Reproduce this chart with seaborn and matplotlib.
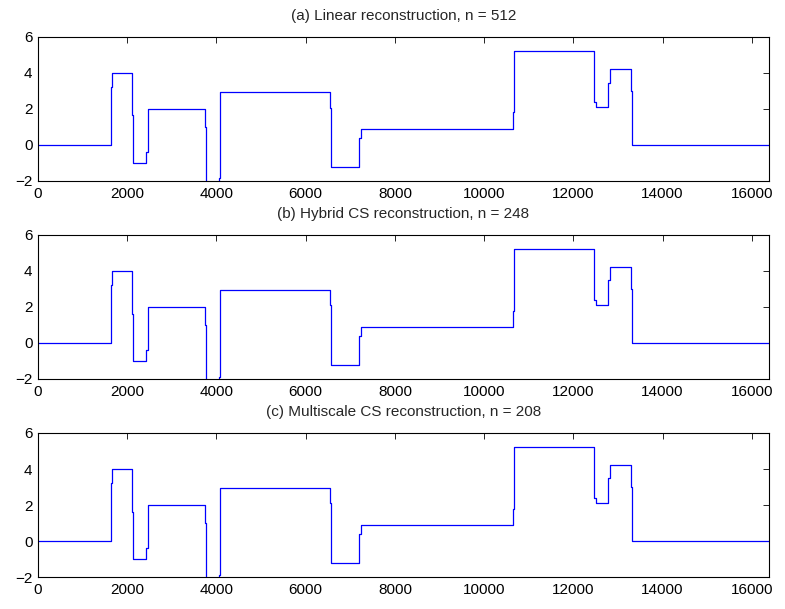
import matplotlib
matplotlib.use('Agg')
import matplotlib.pyplot as plt
import seaborn as sns
import pandas as pd

# sample index where each constant piece starts, and the level of that piece
breaks = [0, 1629, 1658, 2100, 2136, 2420, 2458, 3742, 3765, 4063, 4078,
          6543, 6573, 7200, 7238, 10637, 10660, 12466, 12497, 12780, 12818,
          13282, 13304]
levels_a = [0, 3.24, 4.0, 1.67, -1.02, -0.37, 2.0, 1.02, -4.2, -1.85, 2.96,
            2.07, -1.2, 0.37, 0.9, 1.85, 5.2, 2.4, 2.1, 3.46, 4.2,
            3.02, 0]
levels_b = [0, 3.2, 4.0, 1.6, -1.0, -0.4, 2.0, 1.0, -4.2, -1.9, 2.96,
            2.1, -1.2, 0.4, 0.9, 1.8, 5.2, 2.4, 2.1, 3.5, 4.2,
            3.0, 0]
levels_c = [0, 3.2, 4.0, 1.6, -1.0, -0.4, 2.0, 1.0, -4.2, -1.9, 2.96,
            2.1, -1.2, 0.4, 0.9, 1.8, 5.2, 2.4, 2.1, 3.5, 4.2,
            3.0, 0]
n_samples = 16384

titles = ['(a) Linear reconstruction, n = 512',
          '(b) Hybrid CS reconstruction, n = 248',
          '(c) Multiscale CS reconstruction, n = 208']
xticks = [0, 2000, 4000, 6000, 8000, 10000, 12000, 14000, 16000]
yticks = [-2, 0, 2, 4, 6]

sns.set_style('white')
plt.rcParams['font.family'] = ['Liberation Sans', 'DejaVu Sans']
plt.rcParams['axes.unicode_minus'] = True

fig = plt.figure(figsize=(7.85, 6.09), dpi=100)
# [left, bottom, width, height] in figure fractions, panels 198 px apart
boxes = [[0.0484, 0.7028, 0.9312, 0.2365],
         [0.0484, 0.3777, 0.9312, 0.2365],
         [0.0484, 0.0525, 0.9312, 0.2365]]

for box, title, lev in zip(boxes, titles, [levels_a, levels_b, levels_c]):
    ax = fig.add_axes(box)
    df = pd.DataFrame({'x': breaks + [n_samples], 'y': lev + [lev[-1]]})
    sns.lineplot(data=df, x='x', y='y', ax=ax, color='#0000ff',
                 linewidth=0.9, drawstyle='steps-post', estimator=None)
    ax.set_xlim(0, n_samples)
    ax.set_ylim(-2, 6)
    ax.set_xticks(xticks)
    ax.set_yticks(yticks)
    ax.set_xlabel('')
    ax.set_ylabel('')
    ax.set_title(title, fontsize=11, pad=12)
    ax.tick_params(direction='in', top=True, right=True, length=4,
                   width=0.6, labelsize=11, pad=4, colors='black')
    for sp in ax.spines.values():
        sp.set_visible(True)
        sp.set_color('black')
        sp.set_linewidth(0.8)

fig.savefig('out.png', dpi=100)
